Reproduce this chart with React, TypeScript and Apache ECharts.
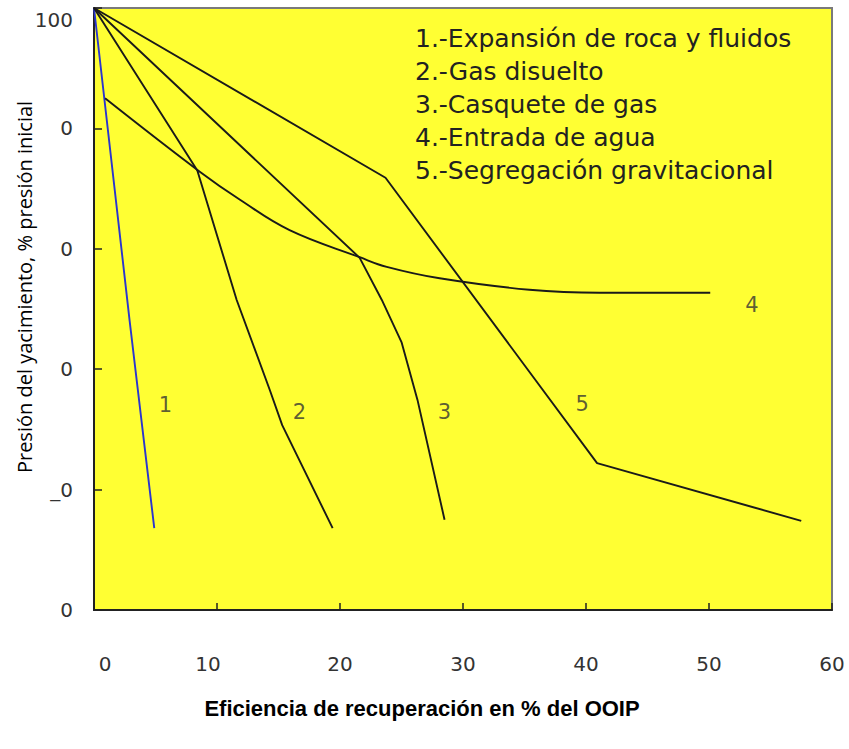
import React, { useEffect, useRef } from "react";
import * as echarts from "echarts";

// ---- data ----
const xTicks = [0, 10, 20, 30, 40, 50, 60];
const yTickLabels: Record<number, string> = { 0: "0", 20: "_0", 40: "0", 60: "0", 80: "0", 100: "100" };

const serieNames = [
  "1.-Expansión de roca y fluidos",
  "2.-Gas disuelto",
  "3.-Casquete de gas",
  "4.-Entrada de agua",
  "5.-Segregación gravitacional",
];

const expansion = [[0, 100], [2.9, 48], [4.9, 13.6]];
const gasDisuelto = [[0, 100], [8.4, 73], [11.6, 51.5], [14.3, 36.5], [15.3, 30.7], [19.4, 13.6]];
const casquete = [[0, 100], [21.6, 58.5], [23.4, 51.5], [25.0, 44.5], [26.3, 34.9], [28.5, 15.0]];
const entradaAgua = [
  [0.9, 85], [8.6, 72.8], [11.9, 68.1], [15.9, 63.1], [21.6, 58.6], [23.8, 57.0],
  [28.1, 55.1], [35.4, 53.2], [41.1, 52.7], [50.1, 52.7],
];
const segregacion = [[0, 100], [23.7, 71.8], [40.9, 24.4], [57.5, 14.8]];

const curveLabels = [
  [5.8, 34, "1"],
  [16.7, 32.9, "2"],
  [28.5, 32.9, "3"],
  [53.5, 50.6, "4"],
  [39.7, 34.2, "5"],
];

const xTitle = "Eficiencia de recuperación en % del OOIP";
const yTitle = "Presión del yacimiento, % presión inicial";

export default function App() {
  const ref = useRef<HTMLDivElement>(null);
  useEffect(() => {
    if (!ref.current) return;
    const chart = echarts.init(ref.current, null, { renderer: "svg" });
    const lineBase = (name: string, data: number[][], color: string, smooth: boolean | number = false) => ({
      name,
      type: "line",
      data,
      symbol: "none",
      smooth,
      lineStyle: { color, width: 1.9 },
      z: 3,
    });
    const tickFont = { fontFamily: "DejaVu Sans", fontSize: 20, color: "#333" };
    chart.setOption({
      animation: false,
      backgroundColor: "#ffffff",
      grid: {
        left: 94,
        right: 17,
        top: 8,
        bottom: 139,
        show: true,
        backgroundColor: "#FFFF33",
        borderColor: "#7a7a7a",
        borderWidth: 2,
      },
      xAxis: {
        type: "value",
        min: 0,
        max: 60,
        interval: 10,
        splitLine: { show: false },
        axisLine: { show: true, onZero: false, lineStyle: { color: "#222", width: 2 } },
        axisTick: { show: true, inside: true, length: 7, lineStyle: { color: "#222", width: 1.5 } },
        axisLabel: {
          margin: 44,
          ...tickFont,
          formatter: (v: number) =>
            xTicks.includes(v) ? (v === 0 ? "{z|0}" : v === 10 ? "{t|10}" : String(v)) : "",
          rich: {
            z: { ...tickFont, padding: [0, 0, 0, 22] },
            t: { ...tickFont, padding: [0, 18, 0, 0] },
          },
        },
      },
      yAxis: {
        type: "value",
        min: 0,
        max: 100,
        interval: 20,
        splitLine: { show: false },
        axisLine: { show: true, onZero: false, lineStyle: { color: "#222", width: 2 } },
        axisTick: { show: true, inside: true, length: 8, lineStyle: { color: "#222", width: 1.5 } },
        axisLabel: {
          margin: 21,
          ...tickFont,
          formatter: (v: number) => (v === 100 ? "{t|100}" : yTickLabels[v] ?? ""),
          rich: { t: { ...tickFont, padding: [24, 0, 0, 0] } },
        },
      },
      series: [
        lineBase(serieNames[0], expansion, "#2a35d0"),
        lineBase(serieNames[1], gasDisuelto, "#1a1a1a"),
        lineBase(serieNames[2], casquete, "#1a1a1a"),
        lineBase(serieNames[3], entradaAgua, "#1a1a1a", 0.4),
        lineBase(serieNames[4], segregacion, "#1a1a1a"),
        {
          type: "scatter",
          data: curveLabels,
          symbolSize: 1,
          itemStyle: { color: "rgba(0,0,0,0)" },
          label: {
            show: true,
            position: "inside",
            formatter: (p: any) => p.data[2],
            fontFamily: "DejaVu Sans",
            fontSize: 21,
            color: "#333",
          },
          z: 4,
        },
      ],
      graphic: [
        ...serieNames.map((t, i) => ({
          type: "text",
          x: 415,
          y: 38 + i * 33,
          style: {
            text: t,
            fill: "#222",
            font: '25px "DejaVu Sans"',
            align: "left",
            verticalAlign: "middle",
          },
          z: 10,
        })),
        {
          type: "text",
          x: 24,
          y: 287,
          rotation: Math.PI / 2,
          style: {
            text: yTitle,
            fill: "#000",
            font: '20px "Open Sans"',
            align: "center",
            verticalAlign: "middle",
          },
        },
        {
          type: "text",
          x: 422,
          y: 708,
          style: {
            text: xTitle,
            fill: "#000",
            font: 'bold 22px "Liberation Sans"',
            align: "center",
            verticalAlign: "middle",
          },
        },
      ],
    });
    return () => chart.dispose();
  }, []);
  return <div ref={ref} style={{ position: "fixed", left: 0, top: 0, width: 849, height: 749 }} />;
}
